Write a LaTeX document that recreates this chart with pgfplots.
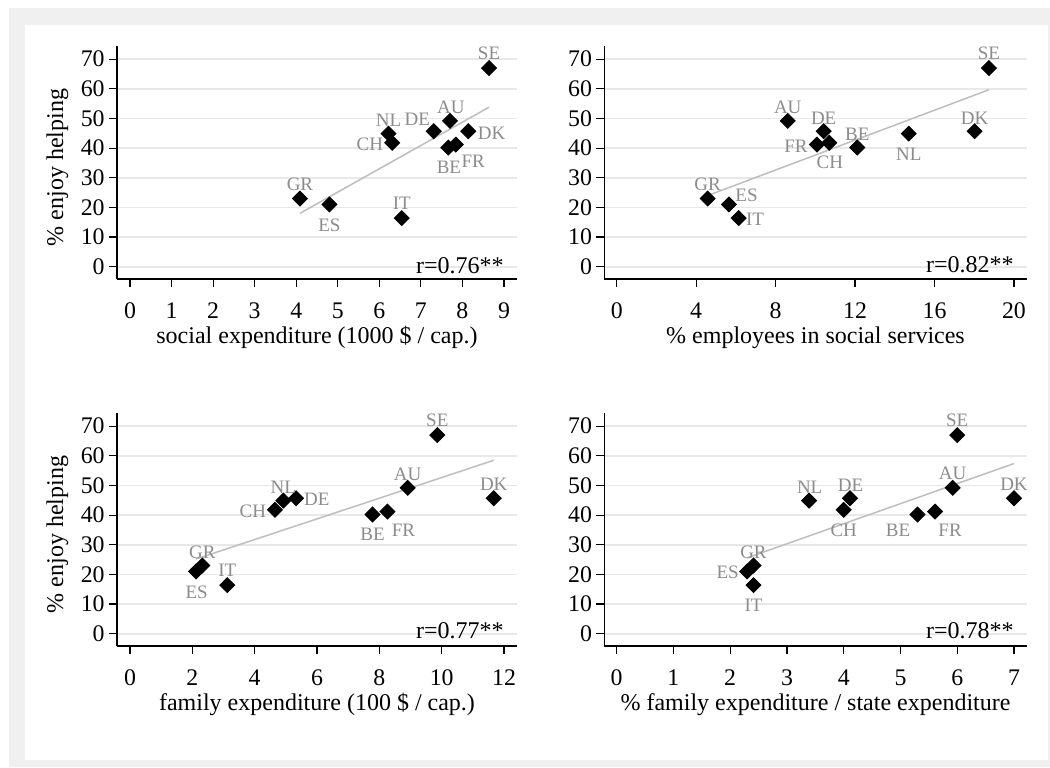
\documentclass[border=0pt]{standalone}
\usepackage{fontspec}
\setmainfont{Liberation Serif}
\usepackage{pgfplots}
\pgfplotsset{compat=1.18}
\usepackage{pgfplotstable}

\definecolor{bggray}{RGB}{240,240,240}
\definecolor{gridgray}{RGB}{232,232,232}
\definecolor{labgray}{RGB}{140,140,140}
\definecolor{fitgray}{RGB}{190,190,190}

% x y label dx dy (label offsets in pt)
\pgfplotstableread{
x y lab dx dy
8.64 67.0 SE 0 7.2
7.70 49.2 AU 0.5 6.7
8.14 45.7 DK 11.7 -1
7.31 45.7 DE -8.2 6
6.22 44.9 NL 0 6.9
6.31 41.8 CH -11.2 -1
7.66 40.2 BE 0.3 -9.8
7.84 41.2 FR 8.7 -8.2
4.09 23.0 GR 0 7.2
4.80 21.0 ES 0 -10.2
6.54 16.4 IT 0 7.3
}\tla
\pgfplotstableread{
x y lab dx dy
18.74 67.0 SE 0 7.2
18.02 45.7 DK 0 6.5
14.70 44.9 NL 0 -10.2
12.11 40.2 BE 0 6.7
8.61 49.2 AU 0 6.7
10.42 45.7 DE 0 6.5
10.08 41.2 FR -10.5 -1
10.70 41.8 CH 0.3 -9.7
4.58 23.0 GR 0 7.2
5.65 21.0 ES 8.8 4.5
6.14 16.4 IT 8.2 -0.7
}\tra
\pgfplotstableread{
x y lab dx dy
9.86 67.0 SE 0 7.5
11.67 45.7 DK 0 6.8
8.91 49.2 AU 0 6.7
8.26 41.2 FR 8 -9.3
7.78 40.2 BE 0 -10
5.33 45.7 DE 10.3 -0.7
4.92 44.9 NL 0 6.7
4.65 41.8 CH -11 -1
2.32 23.0 GR 0 6.7
2.12 21.0 ES 0.3 -10.3
3.12 16.4 IT 0 7.2
}\bla
\pgfplotstableread{
x y lab dx dy
6.00 67.0 SE 0 7.5
7.00 45.7 DK 0 6.8
5.92 49.2 AU 0 7.2
5.61 41.2 FR 7.5 -9.3
5.30 40.2 BE -9.7 -7.8
4.11 45.7 DE 0.3 6.5
4.00 41.8 CH 0 -10.5
3.39 44.9 NL 0.3 6.8
2.41 23.0 GR 0 6.7
2.30 21.0 ES -9.8 -0.5
2.41 16.4 IT 0 -10.2
}\bra

\pgfplotsset{
  panel/.style={
    scale only axis, anchor=south west,
    height=116.5pt,
    ymin=-4.15, ymax=74.45,
    ytick={0,10,...,70},
    axis x line*=bottom, axis y line*=left,
    axis line style={black, line width=0.7pt, -},
    tick style={black, line width=0.6pt},
    tick align=outside, major tick length=4pt,
    ymajorgrids, grid style={gridgray, line width=0.9pt},
    every tick label/.append style={font=\fontsize{11.9}{14}\selectfont},
    /pgf/number format/assume math mode=true,
    label style={font=\fontsize{12}{14}\selectfont},
    yticklabel style={anchor=east, inner sep=0pt, xshift=-2pt},
    xticklabel style={anchor=base, inner sep=0pt, yshift=-15.5pt},
    xlabel style={at={(axis description cs:0.5,-0.275)}, anchor=base},
    ylabel style={at={(axis description cs:-0.149,0.479)}, anchor=center, rotate=0},
    clip=false,
  },
  pts/.style={
    only marks, mark=square*, mark size=2.65pt,
    mark options={rotate=45, fill=black, draw=black},
    nodes near coords, point meta=explicit symbolic,
    visualization depends on={\thisrow{dx}\as\ldx},
    visualization depends on={\thisrow{dy}\as\ldy},
    every node near coord/.append style={anchor=center, inner sep=0pt,
      xshift=\ldx pt, yshift=\ldy pt, text=labgray,
      font=\fontsize{9.5}{11}\selectfont},
  },
  fit/.style={no marks, fitgray, line width=0.75pt},
}

\begin{document}
\begin{tikzpicture}
\useasboundingbox (0,0) rectangle (525pt,-383.5pt);
\fill[white] (0,0) rectangle (525pt,-383.5pt);
\fill[bggray] (4.5pt,-4pt) rectangle (525pt,-383.5pt);
\fill[white] (12.5pt,-12.5pt) rectangle (524pt,-380pt);

% top left
\begin{axis}[panel, at={(58.5pt,-139.5pt)}, width=200pt,
  xmin=-0.313, xmax=9.313, xtick={0,1,...,9},
  xlabel={social expenditure (1000 \$ / cap.)}, ylabel={\% enjoy helping}]
\addplot[fit] coordinates {(4.09,18.0) (8.64,53.8)};
\addplot[pts] table[x=x,y=y,meta=lab]{\tla};
\node[anchor=base east, inner sep=0pt, font=\fontsize{12}{14}\selectfont] at (axis cs:9,-2.4) {r=0.76**};
\end{axis}

% top right
\begin{axis}[panel, at={(302.15pt,-139.5pt)}, width=211.2pt,
  xmin=-0.624, xmax=20.64, xtick={0,4,...,20},
  xlabel={\% employees in social services}]
\addplot[fit] coordinates {(4.58,24.0) (18.74,59.7)};
\addplot[pts] table[x=x,y=y,meta=lab]{\tra};
\node[anchor=base east, inner sep=0pt, font=\fontsize{12}{14}\selectfont] at (axis cs:20,-2.1) {r=0.82**};
\end{axis}

% bottom left
\begin{axis}[panel, at={(58.5pt,-323pt)}, width=200pt,
  xmin=-0.417, xmax=12.417, xtick={0,2,...,12},
  xlabel={family expenditure (100 \$ / cap.)}, ylabel={\% enjoy helping}]
\addplot[fit] coordinates {(2.12,25.2) (11.67,58.5)};
\addplot[pts] table[x=x,y=y,meta=lab]{\bla};
\node[anchor=base east, inner sep=0pt, font=\fontsize{12}{14}\selectfont] at (axis cs:12,-1.6) {r=0.77**};
\end{axis}

% bottom right
\begin{axis}[panel, at={(302.15pt,-323pt)}, width=211.2pt,
  xmin=-0.218, xmax=7.224, xtick={0,1,...,7},
  xlabel={\% family expenditure / state expenditure}]
\addplot[fit] coordinates {(2.30,25.6) (7.0,57.4)};
\addplot[pts] table[x=x,y=y,meta=lab]{\bra};
\node[anchor=base east, inner sep=0pt, font=\fontsize{12}{14}\selectfont] at (axis cs:7,-1.6) {r=0.78**};
\end{axis}
\end{tikzpicture}
\end{document}
